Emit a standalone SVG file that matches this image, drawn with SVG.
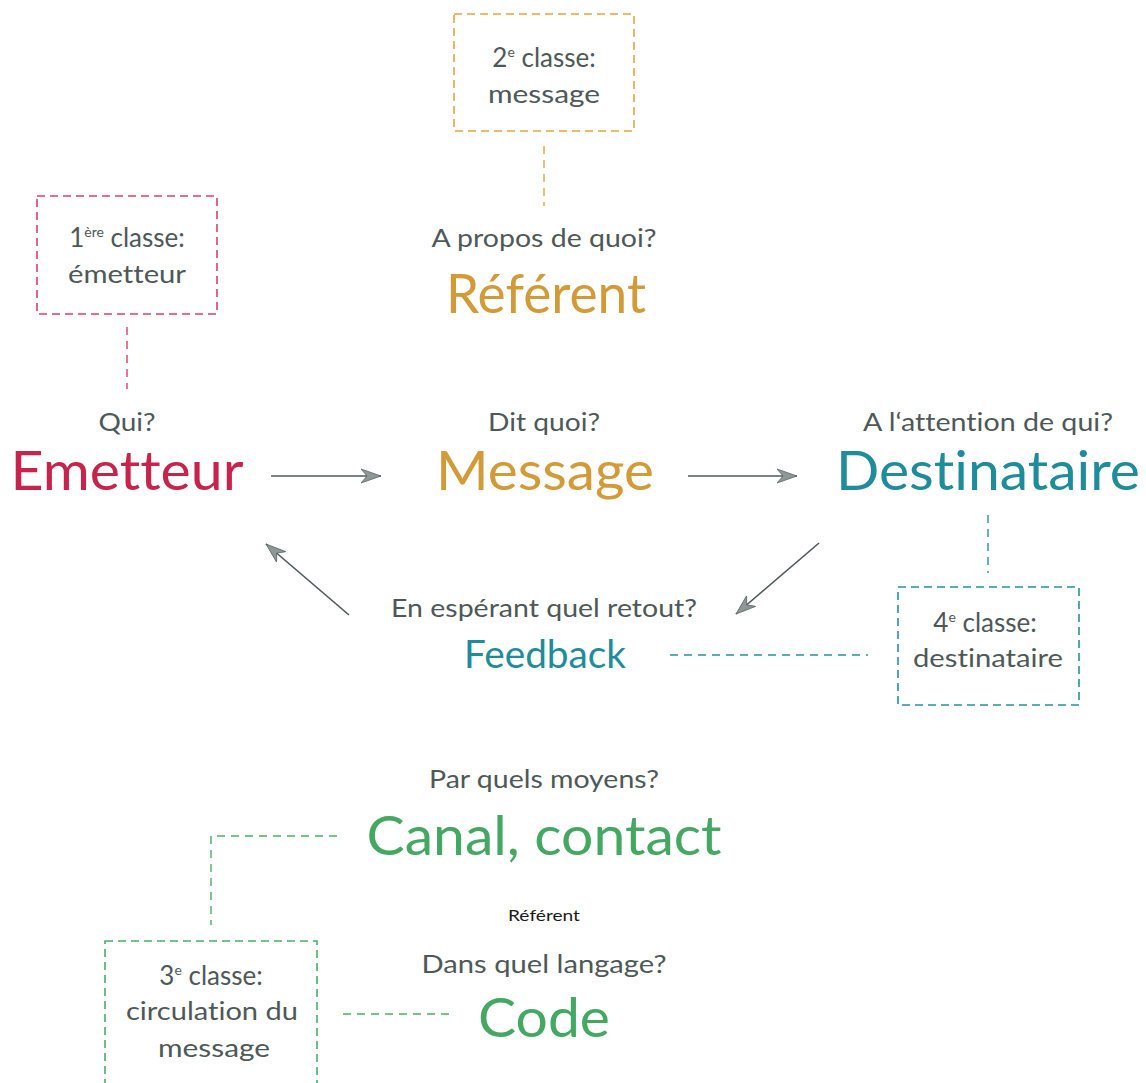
<svg xmlns="http://www.w3.org/2000/svg" width="1146" height="1083" viewBox="0 0 1146 1083">
<style>
  text { font-family: Lato, "Open Sans", "Liberation Sans", sans-serif; text-anchor: middle; font-variant-ligatures: none; }
  .q { font-size: 25px; fill: #4e5858; }
  .qs { font-size: 26px; fill: #4e5858; }
  .big { font-size: 54px; }
  .red { fill: #c8234a; }
  .org { fill: #d39a38; }
  .teal { fill: #1f8c9b; }
  .grn { fill: #45a862; }
  .box { fill: none; stroke-width: 1.6; stroke-dasharray: 8 5; }
  .dl { fill: none; stroke-width: 1.4; stroke-dasharray: 8 6; }
  .sr { stroke: #d9416a; }
  .so { stroke: #e0a640; }
  .st { stroke: #2592a0; }
  .sg { stroke: #4aae66; }
  .arr { stroke: #4e5858; stroke-width: 1.6; fill: none; marker-end: url(#ah); }
  .sup { font-size: 14px; }
</style>
<defs>
  <marker id="ah" markerWidth="22" markerHeight="16" refX="20" refY="8" orient="auto" markerUnits="userSpaceOnUse">
    <path d="M0,1 L20,8 L0,15 L6,8 Z" fill="#8e9696" stroke="#5c6666" stroke-width="0.8" stroke-linejoin="round"/>
  </marker>
</defs>

<g id="connectors">
  <line class="arr" x1="271" y1="476" x2="381" y2="476"/>
  <line class="arr" x1="688" y1="476" x2="797" y2="476"/>
  <line class="arr" x1="819" y1="543" x2="736" y2="614"/>
  <line class="arr" x1="349" y1="615" x2="266" y2="544"/>
  <line class="dl so" x1="544" y1="146" x2="544" y2="206"/>
  <line class="dl sr" x1="127" y1="327" x2="127" y2="389"/>
  <line class="dl st" x1="988" y1="515" x2="988" y2="573"/>
  <line class="dl st" x1="670" y1="655" x2="868" y2="655"/>
  <polyline class="dl sg" points="337,836 211,836 211,925"/>
  <line class="dl sg" x1="343" y1="1014" x2="455" y2="1014"/>
</g>

<g id="classe2">
  <rect class="box so" x="454" y="14" width="180" height="117"/>
  <text class="qs" x="544" y="67">2<tspan class="sup" dy="-10">e</tspan><tspan dy="10"> classe:</tspan></text>
  <text class="q" x="544" y="103" textLength="112" lengthAdjust="spacingAndGlyphs">message</text>
</g>

<g id="referent">
  <text class="q" x="544" y="247" textLength="225" lengthAdjust="spacingAndGlyphs">A propos de quoi?</text>
  <text class="big org" x="546" y="313" textLength="200" lengthAdjust="spacingAndGlyphs">Référent</text>
</g>

<g id="classe1">
  <rect class="box sr" x="37" y="196" width="180" height="118"/>
  <text class="qs" x="127" y="247">1<tspan class="sup" dy="-10">ère</tspan><tspan dy="10"> classe:</tspan></text>
  <text class="q" x="127" y="283" textLength="118" lengthAdjust="spacingAndGlyphs">émetteur</text>
</g>

<g id="emetteur">
  <text class="q" x="127" y="431" textLength="57" lengthAdjust="spacingAndGlyphs">Qui?</text>
  <text class="big red" x="127" y="490" textLength="233" lengthAdjust="spacingAndGlyphs">Emetteur</text>
</g>

<g id="message">
  <text class="q" x="544" y="431" textLength="112" lengthAdjust="spacingAndGlyphs">Dit quoi?</text>
  <text class="big org" x="545" y="490" textLength="218" lengthAdjust="spacingAndGlyphs">Message</text>
</g>

<g id="destinataire">
  <text class="q" x="988" y="431" textLength="250" lengthAdjust="spacingAndGlyphs">A l‘attention de qui?</text>
  <text class="big teal" x="988" y="490" textLength="304" lengthAdjust="spacingAndGlyphs">Destinataire</text>
</g>

<g id="classe4">
  <rect class="box st" x="898" y="587" width="181" height="118"/>
  <text class="qs" x="985" y="632">4<tspan class="sup" dy="-10">e</tspan><tspan dy="10"> classe:</tspan></text>
  <text class="q" x="988" y="667" textLength="150" lengthAdjust="spacingAndGlyphs">destinataire</text>
</g>

<g id="feedback">
  <text class="q" x="544" y="617" textLength="306" lengthAdjust="spacingAndGlyphs">En espérant quel retout?</text>
  <text class="teal" x="545" y="668" font-size="39" textLength="162" lengthAdjust="spacingAndGlyphs">Feedback</text>
</g>

<g id="canal">
  <text class="q" x="544" y="788" textLength="230" lengthAdjust="spacingAndGlyphs">Par quels moyens?</text>
  <text class="big grn" x="544" y="855" textLength="355" lengthAdjust="spacingAndGlyphs">Canal, contact</text>
</g>

<g id="label-referent">
  <text x="544" y="921" font-size="16" fill="#1a1a1a" textLength="72" lengthAdjust="spacingAndGlyphs">Référent</text>
</g>

<g id="code">
  <text class="q" x="544" y="973" textLength="245" lengthAdjust="spacingAndGlyphs">Dans quel langage?</text>
  <text class="big grn" x="544" y="1037" textLength="132" lengthAdjust="spacingAndGlyphs">Code</text>
</g>

<g id="classe3">
  <rect class="box sg" x="105" y="941" width="212" height="160"/>
  <text class="qs" x="211" y="985">3<tspan class="sup" dy="-10">e</tspan><tspan dy="10"> classe:</tspan></text>
  <text class="q" x="212" y="1020" textLength="172" lengthAdjust="spacingAndGlyphs">circulation du</text>
  <text class="q" x="214" y="1057" textLength="112" lengthAdjust="spacingAndGlyphs">message</text>
</g>
</svg>
